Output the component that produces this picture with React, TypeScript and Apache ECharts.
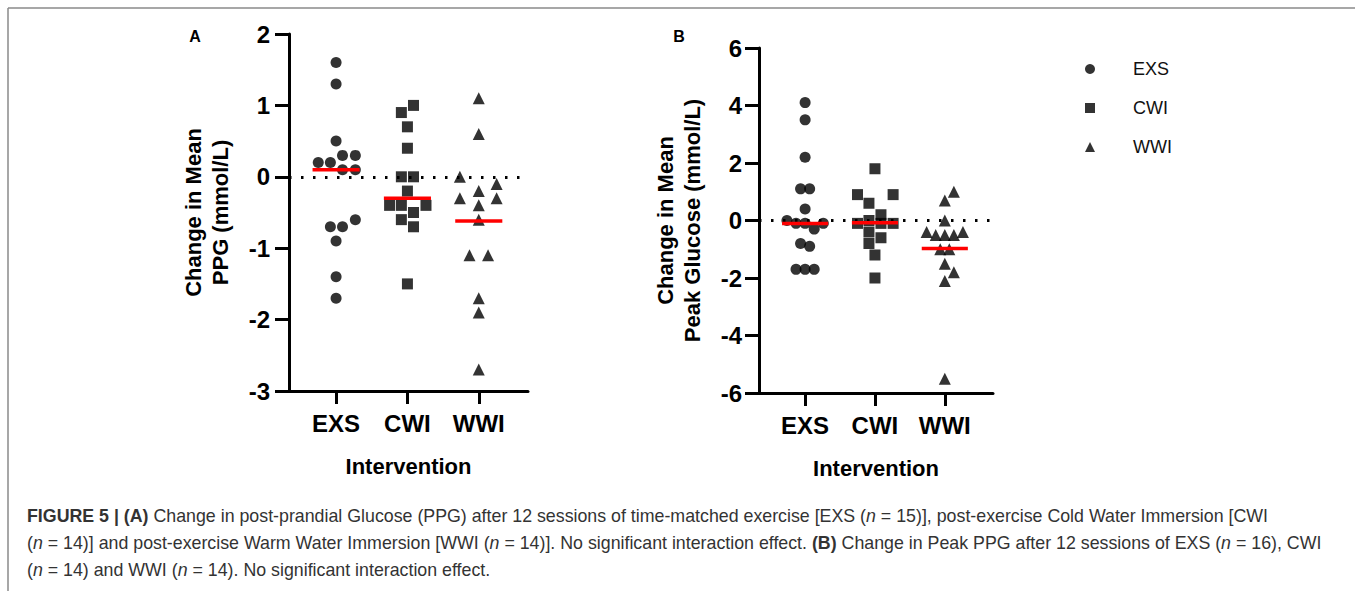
import React, { useEffect, useRef } from "react";
import * as echarts from "echarts";

const categories = ["EXS", "CWI", "WWI"];
const groupSymbols = ["circle", "rect", "triangle"];

// Panel A: change in mean PPG (mmol/L)
const ppgExs = [1.6, 1.3, 0.5, 0.3, 0.3, 0.2, 0.2, 0.1, 0.1, -0.6, -0.7, -0.7, -0.9, -1.4, -1.7];
const ppgExsJitter = [0, 0, 0, 0.09, 0.27, -0.25, -0.08, 0.09, 0.27, 0.27, -0.08, 0.09, 0, 0, 0];
const ppgCwi = [1.0, 0.9, 0.7, 0.4, 0.0, 0.0, -0.2, -0.4, -0.4, -0.4, -0.5, -0.6, -0.7, -1.5];
const ppgCwiJitter = [0.085, -0.085, 0, 0, -0.085, 0.085, 0, -0.25, -0.085, 0.26, 0.085, -0.085, 0.085, 0];
const ppgWwi = [1.1, 0.6, 0.0, -0.1, -0.2, -0.3, -0.3, -0.4, -0.6, -1.1, -1.1, -1.7, -1.9, -2.7];
const ppgWwiJitter = [0, 0, -0.265, 0.25, 0, -0.265, 0.25, 0, 0, -0.13, 0.13, 0, 0, 0];
const ppgCentre = [0.1, -0.3, -0.62];

// Panel B: change in mean peak glucose (mmol/L)
const peakExs = [4.1, 3.5, 2.2, 1.1, 1.1, 0.4, 0.0, -0.1, -0.1, -0.1, -0.3, -0.8, -0.9, -1.7, -1.7, -1.7];
const peakExsJitter = [0, 0, 0, -0.065, 0.065, 0, -0.26, -0.13, 0, 0.26, 0.13, -0.065, 0.065, -0.13, 0, 0.13];
const peakCwi = [1.8, 0.9, 0.9, 0.6, 0.2, 0.0, -0.1, -0.1, -0.1, -0.4, -0.6, -0.8, -1.2, -2.0];
const peakCwiJitter = [0, -0.25, 0.26, -0.086, 0.086, -0.086, -0.25, 0.086, 0.26, -0.086, 0.086, -0.086, 0, 0];
const peakWwi = [1.0, 0.7, 0.0, -0.4, -0.5, -0.5, -0.5, -0.4, -1.0, -1.0, -1.5, -1.8, -2.1, -5.5];
const peakWwiJitter = [0.13, 0, 0, -0.26, -0.13, 0, 0.13, 0.26, -0.065, 0.065, 0, 0.13, 0, 0];
const peakCentre = [-0.1, -0.08, -0.97];

const yTicksA = { min: -3, max: 2, interval: 1 };
const yTicksB = { min: -6, max: 6, interval: 2 };

const FONT = "'Liberation Sans', Arial, Helvetica, sans-serif";

const captionLines = [
  "{b|FIGURE 5 | (A)} Change in post-prandial Glucose (PPG) after 12 sessions of time-matched exercise [EXS ({i|n} = 15)], post-exercise Cold Water Immersion [CWI",
  "({i|n} = 14)] and post-exercise Warm Water Immersion [WWI ({i|n} = 14)]. No significant interaction effect. {b|(B)} Change in Peak PPG after 12 sessions of EXS ({i|n} = 16), CWI",
  "({i|n} = 14) and WWI ({i|n} = 14). No significant interaction effect.",
];

const CAPTION_SIZE = 17.8;

function makeX(gridIndex: number) {
  return {
    type: "value",
    gridIndex,
    min: 0.34,
    max: 3.69,
    splitLine: { show: false },
    axisLine: { show: true, onZero: false, lineStyle: { color: "#000", width: 3 } },
    axisTick: { show: true, length: 13, customValues: [1, 2, 3], lineStyle: { color: "#000", width: 3 } },
    axisLabel: {
      customValues: [1, 2, 3],
      formatter: (v: number) => categories[Math.round(v) - 1] ?? "",
      fontSize: 24,
      fontWeight: "bold",
      color: "#000",
      fontFamily: FONT,
      margin: 20,
    },
    name: "Intervention",
    nameLocation: "middle",
    nameGap: 64,
    nameTextStyle: { fontSize: 22, fontWeight: "bold", color: "#000", fontFamily: FONT },
  };
}

function makeY(gridIndex: number, ticks: any, name: string, nameGap: number, margin: number) {
  return {
    type: "value",
    gridIndex,
    min: ticks.min,
    max: ticks.max,
    interval: ticks.interval,
    splitLine: { show: false },
    axisLine: { show: true, onZero: false, lineStyle: { color: "#000", width: 3 } },
    axisTick: { show: true, length: 14, lineStyle: { color: "#000", width: 3 } },
    axisLabel: { fontSize: 24, fontWeight: "bold", color: "#000", fontFamily: FONT, margin },
    name,
    nameLocation: "middle",
    nameRotate: 90,
    nameGap,
    nameTextStyle: { fontSize: 22, fontWeight: "bold", color: "#000", fontFamily: FONT, lineHeight: 27, align: "center" },
  };
}

function scatterSeries(idx: number, values: number[], jitter: number[], axis: number, withZero: boolean) {
  const s: any = {
    type: "scatter",
    name: categories[idx],
    xAxisIndex: axis,
    yAxisIndex: axis,
    symbol: groupSymbols[idx],
    symbolSize: idx === 2 ? 12 : 11,
    itemStyle: { color: "#000" },
    z: 3,
    data: values.map((v, i) => [idx + 1 + jitter[i], v]),
  };
  if (withZero) {
    s.markLine = {
      silent: true,
      symbol: "none",
      label: { show: false },
      z: 1,
      lineStyle: { color: "#000", width: 3, type: [2.5, 9.5] },
      data: [{ yAxis: 0 }],
    };
  }
  return s;
}

function centreSeries(centres: number[], axis: number) {
  return centres.map((m, idx) => ({
    type: "line",
    name: "centre" + axis + idx,
    xAxisIndex: axis,
    yAxisIndex: axis,
    showSymbol: false,
    symbol: "none",
    z: 5,
    lineStyle: { color: "#ff0000", width: 3.5 },
    data: [
      [idx + 1 - 0.33, m],
      [idx + 1 + 0.33, m],
    ],
  }));
}

export default function App() {
  const ref = useRef<HTMLDivElement>(null);
  useEffect(() => {
    if (!ref.current) return;
    const chart = echarts.init(ref.current, undefined, { renderer: "svg" });
    const option: any = {
      animation: false,
      backgroundColor: "#fff",
      grid: [
        { left: 289, top: 34, width: 239, height: 357 },
        { left: 759, top: 48, width: 234, height: 345 },
      ],
      xAxis: [makeX(0), makeX(1)],
      yAxis: [
        makeY(0, yTicksA, "Change in Mean\nPPG (mmol/L)", 55, 19),
        makeY(1, yTicksB, "Change in Mean\nPeak Glucose (mmol/L)", 53, 17),
      ],
      legend: {
        data: categories,
        orient: "vertical",
        left: 1080,
        top: 54,
        itemWidth: 10,
        itemHeight: 10,
        itemGap: 19,
        selectedMode: false,
        textStyle: { fontSize: 18, color: "#111", fontFamily: FONT, lineHeight: 20, padding: [0, 0, 0, 33] },
      },
      series: [
        scatterSeries(0, ppgExs, ppgExsJitter, 0, true),
        scatterSeries(1, ppgCwi, ppgCwiJitter, 0, false),
        scatterSeries(2, ppgWwi, ppgWwiJitter, 0, false),
        ...centreSeries(ppgCentre, 0),
        scatterSeries(0, peakExs, peakExsJitter, 1, true),
        scatterSeries(1, peakCwi, peakCwiJitter, 1, false),
        scatterSeries(2, peakWwi, peakWwiJitter, 1, false),
        ...centreSeries(peakCentre, 1),
      ],
      graphic: [
        { type: "line", shape: { x1: 8, y1: 8, x2: 1355, y2: 8 }, style: { stroke: "#8a8a8a", lineWidth: 1.5 } },
        { type: "line", shape: { x1: 8, y1: 8, x2: 8, y2: 591 }, style: { stroke: "#8a8a8a", lineWidth: 1.5 } },
        {
          type: "text",
          x: 195,
          y: 36,
          style: { text: "A", font: `bold 16px ${FONT}`, fill: "#000", align: "center", verticalAlign: "middle" },
        },
        {
          type: "text",
          x: 679,
          y: 36,
          style: { text: "B", font: `bold 16px ${FONT}`, fill: "#000", align: "center", verticalAlign: "middle" },
        },
        ...captionLines.map((t, i) => ({
          type: "text",
          x: 27,
          y: 516 + i * 27,
          style: {
            text: t,
            fontSize: CAPTION_SIZE,
            fontFamily: FONT,
            fill: "#333",
            verticalAlign: "middle",
            rich: {
              b: { fontWeight: "bold", fontSize: CAPTION_SIZE, fontFamily: FONT, fill: "#333" },
              i: { fontStyle: "italic", fontSize: CAPTION_SIZE, fontFamily: FONT, fill: "#333" },
            },
          },
        })),
      ],
    };
    chart.setOption(option);
    return () => chart.dispose();
  }, []);
  return (
    <div
      ref={ref}
      style={{ position: "absolute", left: 0, top: 0, width: 1355, height: 591, background: "#fff" }}
    />
  );
}
